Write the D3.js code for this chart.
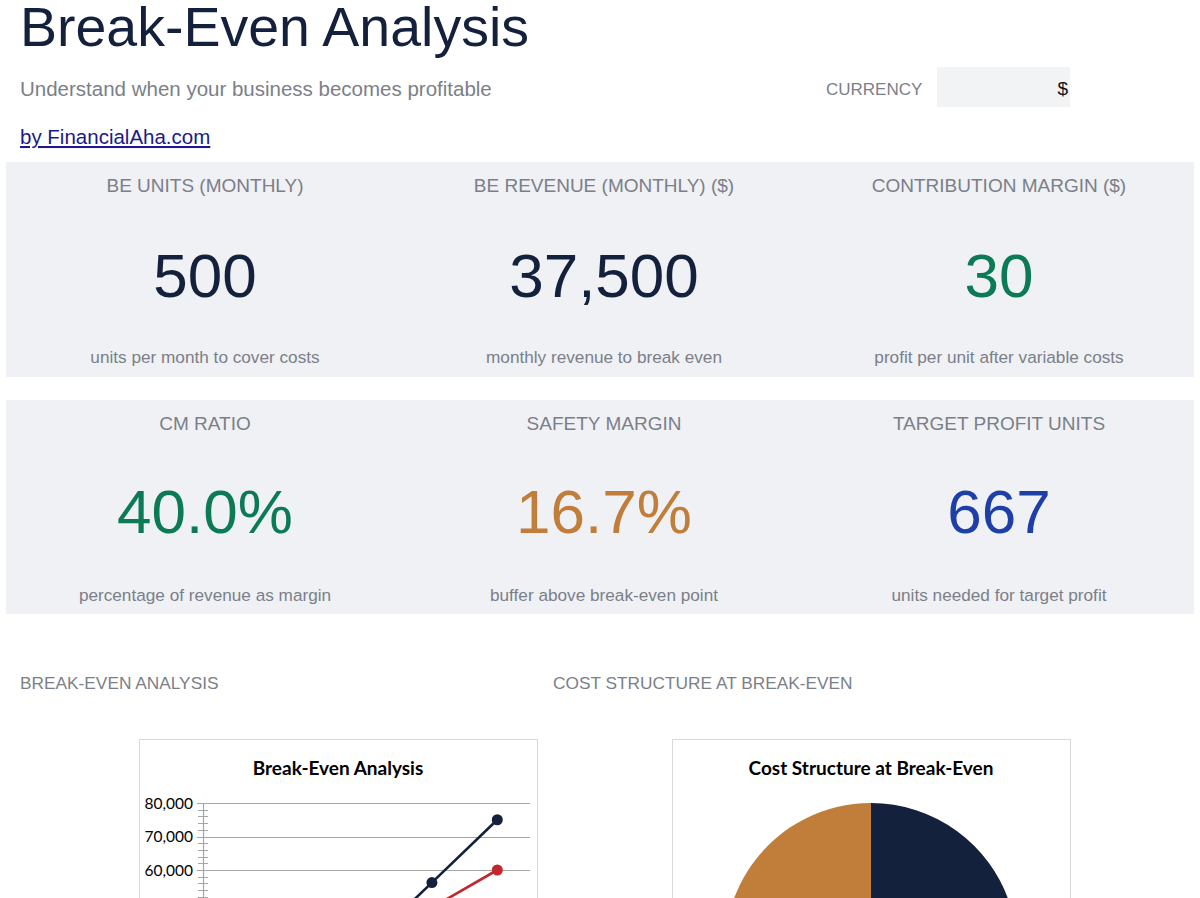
<!DOCTYPE html>
<html>
<head>
<meta charset="utf-8">
<script src="https://cdn.jsdelivr.net/npm/d3@7"></script>
<style>
  html, body { margin: 0; padding: 0; background: #fff; overflow: hidden; }
  svg { display: block; }
</style>
</head>
<body>
<svg id="page" width="1200" height="898"></svg>
<script>
// ---- data ----
var cardTitles = ["BE UNITS (MONTHLY)", "BE REVENUE (MONTHLY) ($)", "CONTRIBUTION MARGIN ($)",
                  "CM RATIO", "SAFETY MARGIN", "TARGET PROFIT UNITS"];
var cardValues = ["500", "37,500", "30", "40.0%", "16.7%", "667"];
var cardNotes = ["units per month to cover costs", "monthly revenue to break even",
                 "profit per unit after variable costs", "percentage of revenue as margin",
                 "buffer above break-even point", "units needed for target profit"];

var unitLevels = [0, 250, 500, 750, 1000];
var revenue = [0, 18750, 37500, 56250, 75000];
var totalCost = [15000, 26250, 37500, 48750, 60000];
var yMajorTicks = [0, 10000, 20000, 30000, 40000, 50000, 60000, 70000, 80000];

var costLabels = ["Fixed Costs", "Variable Costs"];
var costValues = [15000, 22500];

// ---- styles ----
var navy = "#14213d", red = "#c1272d", orange = "#c17d3a", green = "#0b7a55", blue = "#1e3fa8";
var grey = "#7b7f89", cardBg = "#eff1f4";
var cardColors = [navy, navy, green, green, orange, blue];
var sans = "'Liberation Sans', Arial, sans-serif";
var chartFont = "Lato, 'Open Sans', sans-serif";
var pageH = 898;

var svg = d3.select("#page");

// header
svg.append("text").attr("x", 20).attr("y", 46)
    .attr("font-family", sans).attr("font-size", 55.5).attr("fill", navy)
    .text("Break-Even Analysis");
svg.append("text").attr("x", 20).attr("y", 96)
    .attr("font-family", sans).attr("font-size", 20.5).attr("fill", grey)
    .text("Understand when your business becomes profitable");
svg.append("text").attr("x", 20).attr("y", 144)
    .attr("font-family", sans).attr("font-size", 20.5).attr("fill", "#1a1a8c")
    .attr("text-decoration", "underline")
    .text("by FinancialAha.com");

svg.append("text").attr("x", 826).attr("y", 95)
    .attr("font-family", sans).attr("font-size", 17).attr("fill", grey)
    .text("CURRENCY");
svg.append("rect").attr("x", 937).attr("y", 67).attr("width", 133).attr("height", 40)
    .attr("fill", "#f2f3f5");
svg.append("text").attr("x", 1068).attr("y", 95).attr("text-anchor", "end")
    .attr("font-family", sans).attr("font-size", 19).attr("fill", "#111")
    .text("$");

// KPI cards
var rows = [{top: 162, h: 215, label: 192, value: 297, note: 363},
            {top: 400, h: 214, label: 430, value: 533, note: 601}];
var colCenters = [205, 604, 999];

rows.forEach(function(r, ri) {
    svg.append("rect").attr("x", 6).attr("y", r.top).attr("width", 1188).attr("height", r.h)
        .attr("fill", cardBg);
    var g = svg.append("g");
    var idx = d3.range(ri * 3, ri * 3 + 3);
    g.selectAll(".lbl").data(idx).enter().append("text")
        .attr("x", function(d, i) { return colCenters[i]; })
        .attr("y", r.label).attr("text-anchor", "middle")
        .attr("font-family", sans).attr("font-size", 19).attr("fill", grey)
        .text(function(d) { return cardTitles[d]; });
    g.selectAll(".val").data(idx).enter().append("text")
        .attr("x", function(d, i) { return colCenters[i]; })
        .attr("y", r.value).attr("text-anchor", "middle")
        .attr("font-family", sans).attr("font-size", 62)
        .attr("fill", function(d) { return cardColors[d]; })
        .text(function(d) { return cardValues[d]; });
    g.selectAll(".note").data(idx).enter().append("text")
        .attr("x", function(d, i) { return colCenters[i]; })
        .attr("y", r.note).attr("text-anchor", "middle")
        .attr("font-family", sans).attr("font-size", 17.2).attr("fill", grey)
        .text(function(d) { return cardNotes[d]; });
});

// section labels
svg.append("text").attr("x", 20).attr("y", 689)
    .attr("font-family", sans).attr("font-size", 17.3).attr("fill", grey)
    .text("BREAK-EVEN ANALYSIS");
svg.append("text").attr("x", 553).attr("y", 689)
    .attr("font-family", sans).attr("font-size", 17.3).attr("fill", grey)
    .text("COST STRUCTURE AT BREAK-EVEN");

// ---- line chart ----
svg.append("rect").attr("x", 139.5).attr("y", 739.5).attr("width", 398).attr("height", 400)
    .attr("fill", "#fff").attr("stroke", "#d9d9d9");
svg.append("text").attr("x", 338).attr("y", 775).attr("text-anchor", "middle")
    .attr("font-family", chartFont).attr("font-weight", "bold").attr("font-size", 19)
    .attr("fill", "#000").text("Break-Even Analysis");

var plotLeft = 203, plotRight = 530;
var x = d3.scaleBand().domain(unitLevels).range([plotLeft, plotRight]);
var y = d3.scaleLinear().domain([0, 80000]).range([803 + 8 * 33.5, 803]);
function px(d) { return x(d) + x.bandwidth() / 2; }

var grid = svg.append("g");
grid.selectAll("line").data(yMajorTicks).enter().append("line")
    .attr("x1", plotLeft - 6).attr("x2", plotRight)
    .attr("y1", function(d) { return Math.round(y(d)) + 0.5; })
    .attr("y2", function(d) { return Math.round(y(d)) + 0.5; })
    .attr("stroke", "#a6a6a6").attr("stroke-width", 1.2);

var minor = d3.range(0, 80001, 2000);
svg.append("g").selectAll("line").data(minor).enter().append("line")
    .attr("x1", plotLeft - 5).attr("x2", plotLeft + 5)
    .attr("y1", function(d) { return Math.round(y(d)) + 0.5; })
    .attr("y2", function(d) { return Math.round(y(d)) + 0.5; })
    .attr("stroke", "#a6a6a6").attr("stroke-width", 1);
svg.append("line").attr("x1", plotLeft + 0.5).attr("x2", plotLeft + 0.5)
    .attr("y1", y(80000)).attr("y2", y(0))
    .attr("stroke", "#a6a6a6").attr("stroke-width", 1.2);

// only the labels that fall inside the visible window
svg.append("g").selectAll("text")
    .data(yMajorTicks.filter(function(d) { return y(d) + 6 < pageH; }))
    .enter().append("text")
    .attr("x", 193).attr("y", function(d) { return y(d) + 5.5; })
    .attr("text-anchor", "end").attr("font-family", chartFont).attr("font-size", 15.5)
    .attr("fill", "#000").text(function(d) { return d3.format(",")(d); });

var line = d3.line().x(function(d, i) { return px(unitLevels[i]); }).y(function(d) { return y(d); });
[[totalCost, red], [revenue, navy]].forEach(function(s) {
    svg.append("path").datum(s[0]).attr("d", line)
        .attr("fill", "none").attr("stroke", s[1]).attr("stroke-width", 2.6);
    svg.append("g").selectAll("circle").data(s[0]).enter().append("circle")
        .attr("cx", function(d, i) { return px(unitLevels[i]); })
        .attr("cy", function(d) { return y(d); })
        .attr("r", 5.5).attr("fill", s[1]);
});

// ---- pie chart ----
svg.append("rect").attr("x", 672.5).attr("y", 739.5).attr("width", 398).attr("height", 400)
    .attr("fill", "#fff").attr("stroke", "#d9d9d9");
svg.append("text").attr("x", 871).attr("y", 775).attr("text-anchor", "middle")
    .attr("font-family", chartFont).attr("font-weight", "bold").attr("font-size", 19)
    .attr("fill", "#000").text("Cost Structure at Break-Even");

var pie = d3.pie().sort(null)(costValues);
var arc = d3.arc().innerRadius(0).outerRadius(146);
var pieColors = d3.scaleOrdinal().domain(costLabels).range([navy, orange]);
svg.append("g").attr("transform", "translate(871,949)")
    .selectAll("path").data(pie).enter().append("path")
    .attr("d", arc)
    .attr("fill", function(d, i) { return pieColors(costLabels[i]); });
</script>
</body>
</html>
